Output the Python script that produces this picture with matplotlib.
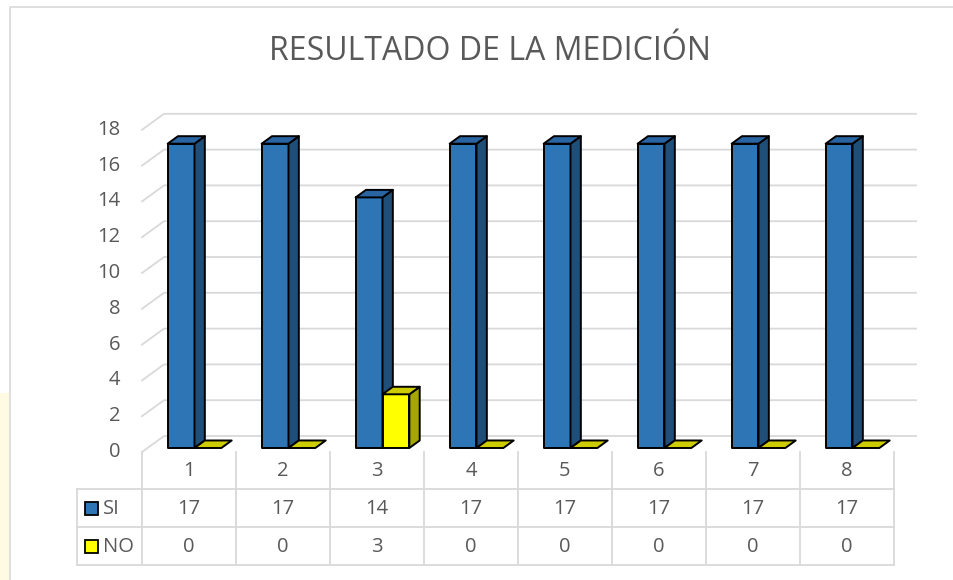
import matplotlib
matplotlib.use('Agg')
import matplotlib.pyplot as plt
from matplotlib.patches import Polygon, Rectangle
from matplotlib.lines import Line2D

# ---------------- data ----------------
title = 'RESULTADO DE LA MEDICIÓN'
categories = ['1', '2', '3', '4', '5', '6', '7', '8']
series_names = ['SI', 'NO']
si_values = [17, 17, 14, 17, 17, 17, 17, 17]
no_values = [0, 0, 3, 0, 0, 0, 0, 0]
y_ticks = [0, 2, 4, 6, 8, 10, 12, 14, 16, 18]

# ---------------- style ----------------
FONT = 'Open Sans'
TXT = '#595959'
GRID = '#D9D9D9'
FS = 14.5
face_colors = {
    'SI': ('#2E75B6', '#1F4E79', '#2A65A3'),   # front, side, top
    'NO': ('#FFFF00', '#A6A600', '#CCCC00'),
}

W, H = 954, 580
fig = plt.figure(figsize=(W / 100, H / 100), dpi=100)
ax = fig.add_axes([0, 0, 1, 1])

# geometry (pixels): front plane origin, category width, pixels per unit
X0, CW, Y0, UNIT = 142, 94, 452, 17.9
ax.set_xlim(-X0 / CW, (W - X0) / CW)
ax.set_ylim((Y0 - H) / UNIT, Y0 / UNIT)
ax.axis('off')

def px(xp, yp):
    """pixel position -> data coords (for layout only)"""
    return (xp - X0) / CW, (Y0 - yp) / UNIT

DX, DY = 22 / CW, 16 / UNIT   # full depth offset in data units

def proj(x, v, d):
    return (x + d * DX, v + d * DY)

n = len(categories)

# chart area background bits
x_a, y_a = px(0, 393)
x_b, y_b = px(9, 580)
ax.add_patch(Rectangle((x_a, y_b), x_b - x_a, y_a - y_b, color='#FFFBE3', lw=0, zorder=0))
bx, by = px(10, 7)
ex, ey = px(954, 580)
ax.add_line(Line2D([bx, bx, ex], [ey, by, by], color=GRID, lw=1.2, zorder=1))

# walls: gridlines on back wall and side wall diagonals
for v in y_ticks:
    a = proj(0, v, 0)
    b = proj(0, v, 1)
    c = proj(n, v, 1)
    ax.add_line(Line2D([a[0], b[0], c[0]], [a[1], b[1], c[1]], color=GRID, lw=1.3, zorder=1))
    ax.text(a[0] - 22 / CW, a[1], str(v), ha='right', va='center', fontsize=FS,
            color=TXT, family=FONT)

# bars
bw = 1 / 3.5
d0, d1 = 0.25, 0.72
for i in range(n):
    for s, (name, vals) in enumerate(zip(series_names, [si_values, no_values])):
        v = vals[i]
        xa = i + 0.5 - bw + s * bw
        xb = xa + bw
        front, side, top = face_colors[name]
        z = 3 + i * 2 + s
        if v > 0:
            ax.add_patch(Polygon([proj(xa, 0, d0), proj(xb, 0, d0), proj(xb, v, d0), proj(xa, v, d0)],
                                 closed=True, fc=front, ec='black', lw=1.4, zorder=z, joinstyle='round'))
            ax.add_patch(Polygon([proj(xb, 0, d0), proj(xb, 0, d1), proj(xb, v, d1), proj(xb, v, d0)],
                                 closed=True, fc=side, ec='black', lw=1.4, zorder=z, joinstyle='round'))
        ax.add_patch(Polygon([proj(xa, v, d0), proj(xb, v, d0), proj(xb, v, d1), proj(xa, v, d1)],
                             closed=True, fc=top, ec='black', lw=1.4, zorder=z, joinstyle='round'))

# title
fig.text(490 / W, 1 - 52 / H, title, ha='center', va='center', fontsize=23,
         color=TXT, family=FONT)

# data table
rows_y = [452, 489, 527, 565]
lx = 77
for k in range(n + 1):
    ya = px(0, rows_y[0])[1]
    yb = px(0, rows_y[-1])[1]
    ax.add_line(Line2D([k, k], [ya, yb], color=GRID, lw=1.3, zorder=1))
xl = px(lx, 0)[0]
for r in rows_y[1:]:
    yr = px(0, r)[1]
    ax.add_line(Line2D([xl, n], [yr, yr], color=GRID, lw=1.3, zorder=1))
ax.add_line(Line2D([xl, xl], [px(0, rows_y[1])[1], px(0, rows_y[-1])[1]], color=GRID, lw=1.3, zorder=1))

yc_head = px(0, (rows_y[0] + rows_y[1]) / 2 + 1)[1]
for i, c in enumerate(categories):
    ax.text(i + 0.5, yc_head, c, ha='center', va='center', fontsize=FS, color=TXT, family=FONT)

for r, (name, vals) in enumerate(zip(series_names, [si_values, no_values])):
    yc = px(0, (rows_y[r + 1] + rows_y[r + 2]) / 2 + 1)[1]
    sx0, sy0 = px(85, (rows_y[r + 1] + rows_y[r + 2]) / 2 + 6.5)
    sx1, sy1 = px(98, (rows_y[r + 1] + rows_y[r + 2]) / 2 - 6.5)
    ax.add_patch(Rectangle((sx0, sy0), sx1 - sx0, sy1 - sy0, fc=face_colors[name][0],
                           ec='black', lw=1.3, zorder=5))
    ax.text(px(103, 0)[0], yc, name, ha='left', va='center', fontsize=FS, color=TXT, family=FONT)
    for i, v in enumerate(vals):
        ax.text(i + 0.5, yc, str(v), ha='center', va='center', fontsize=FS, color=TXT, family=FONT)

fig.savefig('out.png', dpi=100, facecolor='white')
